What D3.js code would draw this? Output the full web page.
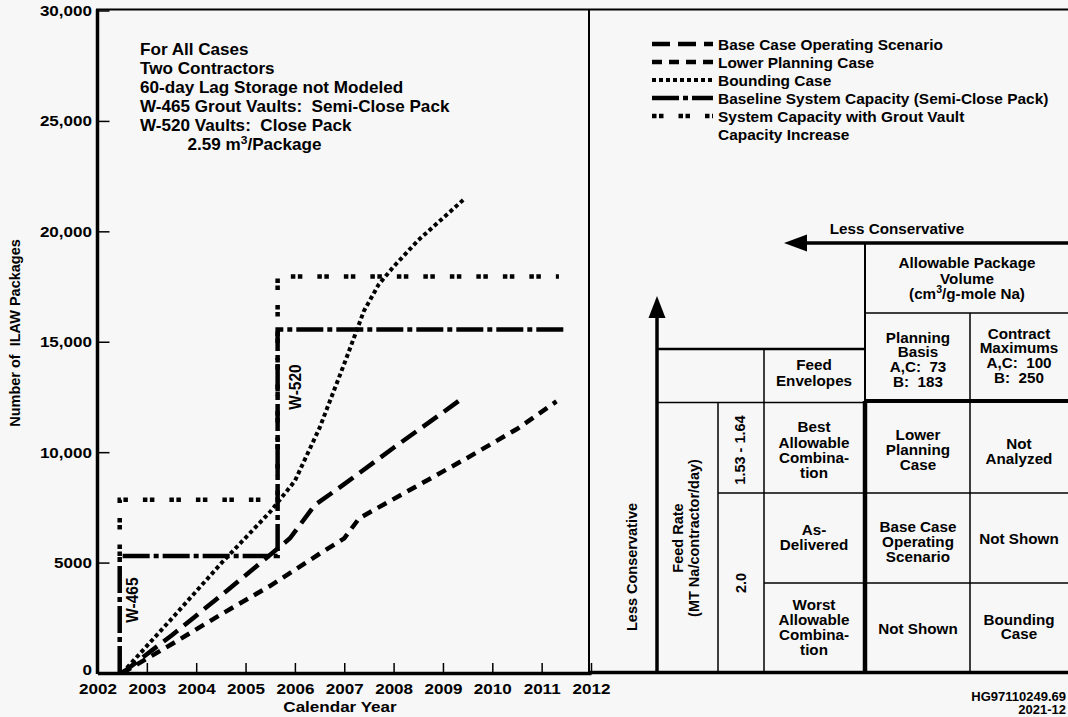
<!DOCTYPE html>
<html>
<head>
<meta charset="utf-8">
<script src="https://cdn.jsdelivr.net/npm/d3@7"></script>
<style>
  html, body { margin: 0; padding: 0; background: #f7f7f7; }
  svg { display: block; }
  text { font-family: "Liberation Sans", Arial, Helvetica, sans-serif; font-weight: bold; fill: #000; white-space: pre; }
</style>
</head>
<body>
<svg id="chart" width="1068" height="717"></svg>
<script>
// ---- Axis ticks ----
const yearTicks = [2002, 2003, 2004, 2005, 2006, 2007, 2008, 2009, 2010, 2011, 2012];
const packageTicks = [0, 5000, 10000, 15000, 20000, 25000, 30000];
const packageTickLabels = ["0", "5000", "10,000", "15,000", "20,000", "25,000", "30,000"];

// ---- Cumulative ILAW packages produced ----
const baseCaseYears  = [2002.5, 2003.5, 2004.5, 2005.5, 2005.9, 2006.4, 2007, 2008, 2009, 2009.4];
const baseCaseValues = [0, 1700, 3500, 5350, 6100, 7600, 8550, 10200, 11800, 12450];

const lowerPlanningYears  = [2002.5, 2003.5, 2004.5, 2005.5, 2006.5, 2007, 2007.3, 2007.6, 2008.5, 2009.5, 2010.5, 2011.3];
const lowerPlanningValues = [0, 1300, 2650, 3950, 5400, 6100, 7000, 7380, 8500, 9750, 11050, 12300];

const boundingYears  = [2002.5, 2003.5, 2004.5, 2005.5, 2006, 2006.5, 2007, 2007.4, 2007.7, 2008, 2008.5, 2009, 2009.45];
const boundingValues = [0, 2450, 4950, 7300, 8700, 11100, 14000, 16400, 17600, 18400, 19600, 20600, 21500];

// ---- Storage capacity steps (W-465 then W-520 vaults) ----
const baselineCapacityYears  = [2002.45, 2002.45, 2005.65, 2005.65, 2011.5];
const baselineCapacityValues = [0, 5300, 5300, 15550, 15550];

const groutCapacityYears  = [2002.45, 2002.45, 2005.65, 2005.65, 2011.35];
const groutCapacityValues = [5300, 7850, 7850, 17950, 17950];

// ---- Legend entries ----
const legendKeys = ["base", "lower", "bounding", "baseline", "grout"];
const legendLabels = [
  ["Base Case Operating Scenario"],
  ["Lower Planning Case"],
  ["Bounding Case"],
  ["Baseline System Capacity (Semi-Close Pack)"],
  ["System Capacity with Grout Vault", "Capacity Increase"]
];

const notes = [
  "For All Cases",
  "Two Contractors",
  "60-day Lag Storage not Modeled",
  "W-465 Grout Vaults:  Semi-Close Pack",
  "W-520 Vaults:  Close Pack",
  "          2.59 m^3/Package"
];

// ---- Styles ----
const SX = 1.1;  // horizontal glyph stretch
const styles = {
  base:     { width: 4.5, dash: "18,8" },
  lower:    { width: 4.5, dash: "10,7" },
  bounding: { width: 4,   dash: "4,3" },
  baseline: { width: 4.5, dash: "27,4,5,4" },
  grout:    { width: 4.5, dash: "4.5,2.5,4.5,15" }
};

const svg = d3.select("#chart");

// ---- text helpers ----
function richText(t, str, size) {
  const parts = str.split(/\^(\d)/);
  parts.forEach((p, i) => {
    if (i % 2 === 1) {
      t.append("tspan").attr("font-size", size * 0.7).attr("dy", -size * 0.38).text(p);
    } else {
      const s = t.append("tspan").text(p);
      if (i > 0) s.attr("dy", size * 0.38);
    }
  });
}
function label(parent, x, y, str, o = {}) {
  const size = o.size || 14, sx = o.sx == null ? SX : o.sx;
  const t = parent.append("text")
    .attr("transform", `translate(${x},${y}) scale(${sx},1)` + (o.rotate ? ` rotate(${o.rotate})` : ""))
    .attr("text-anchor", o.anchor || "middle")
    .attr("font-size", size);
  richText(t, str, size);
  return t;
}

// ---- Scales ----
const x = d3.scaleLinear().domain([2002, 2012]).range([97.5, 591]);
const y = d3.scaleLinear().domain([0, 30000]).range([673, 10.5]);

// frame: top rule and divider between chart and table
svg.append("line").attr("x1", 96).attr("x2", 1068).attr("y1", 9.5).attr("y2", 9.5)
  .attr("stroke", "#000").attr("stroke-width", 2);
svg.append("line").attr("x1", 589).attr("x2", 589).attr("y1", 9.5).attr("y2", 673)
  .attr("stroke", "#000").attr("stroke-width", 2);
svg.append("line").attr("x1", 590).attr("x2", 1068).attr("y1", 672.5).attr("y2", 672.5)
  .attr("stroke", "#000").attr("stroke-width", 3.5);

// ---- Axes ----
const yAxis = d3.axisLeft(y).tickValues(packageTicks)
  .tickFormat((d, i) => packageTickLabels[i])
  .tickSize(-12).tickSizeOuter(0).tickPadding(5);
const gy = svg.append("g").attr("transform", "translate(97.5,0)").call(yAxis);

const xAxis = d3.axisBottom(x).tickValues(yearTicks).tickFormat(d3.format("d"))
  .tickSize(-10).tickSizeOuter(0).tickPadding(10);
const gx = svg.append("g").attr("transform", "translate(0,673)").call(xAxis);

[gx, gy].forEach(g => {
  g.selectAll(".tick line").attr("stroke", "#000").attr("stroke-width", 1.5);
  g.selectAll(".tick text").attr("font-size", 15.5).attr("fill", "#000")
    .attr("font-family", "Liberation Sans, Arial, sans-serif").attr("font-weight", "bold")
    .attr("transform", `scale(${SX},1)`);
  g.select(".domain").attr("stroke", "#000").attr("stroke-width", 3.5);
});
gy.select(".domain").attr("d", "M0,9.5V674");
// zero label sits just above the year labels
gy.selectAll(".tick text").filter(d => d === 0).attr("dy", "0.1em");

label(svg, 340, 712, "Calendar Year", { size: 15.5 });
label(svg, 20, 333, "Number of  ILAW Packages", { size: 14.5, rotate: -90, sx: 1.05 });

// ---- Series ----
const line = d3.line().x(d => x(d[0])).y(d => y(d[1]));
function series(xs, vs) { return xs.map((v, i) => [v, vs[i]]); }
function drawSeries(key, xs, vs) {
  svg.append("path").datum(series(xs, vs))
    .attr("d", line).attr("fill", "none").attr("stroke", "#000")
    .attr("stroke-width", styles[key].width).attr("stroke-dasharray", styles[key].dash)
    .attr("stroke-linecap", "butt").attr("stroke-linejoin", "miter");
}
drawSeries("baseline", baselineCapacityYears, baselineCapacityValues);
drawSeries("grout", groutCapacityYears, groutCapacityValues);
drawSeries("lower", lowerPlanningYears, lowerPlanningValues);
drawSeries("base", baseCaseYears, baseCaseValues);
drawSeries("bounding", boundingYears, boundingValues);

// vault labels along the capacity steps
label(svg, x(baselineCapacityYears[1]) + 18, y(3300), "W-465", { size: 15.5, rotate: -90, sx: 1.05 });
label(svg, x(baselineCapacityYears[3]) + 23, y(12950), "W-520", { size: 15.5, rotate: -90, sx: 1.05 });

// case notes
notes.forEach((s, i) => label(svg, 140, 55 + i * 19, s, { size: 16, anchor: "start", sx: 1.07 }));

// ---- Legend ----
const legendRowY = [44, 62, 80, 98, 116];
legendKeys.forEach((k, i) => {
  const ly = legendRowY[i];
  svg.append("line").attr("x1", 652).attr("x2", 713).attr("y1", ly).attr("y2", ly)
    .attr("stroke", "#000").attr("stroke-width", styles[k].width)
    .attr("stroke-dasharray", styles[k].dash);
  legendLabels[i].forEach((s, j) =>
    label(svg, 718, ly + 5.5 + j * 18, s, { size: 15, anchor: "start", sx: 1.03 }));
});

// ---- Feed envelope / package volume table ----
const tbl = svg.append("g");
function rule(x1, y1, x2, y2, w) {
  tbl.append("line").attr("x1", x1).attr("y1", y1).attr("x2", x2).attr("y2", y2)
    .attr("stroke", "#000").attr("stroke-width", w);
}
// arrows
rule(800, 243, 1068, 243, 3.5);
tbl.append("path").attr("d", "M784,243L807,234.5L807,251.5Z").attr("fill", "#000");
rule(657, 312, 657, 673, 3.5);
tbl.append("path").attr("d", "M657,296L648.5,318L665.5,318Z").attr("fill", "#000");
label(tbl, 897, 234, "Less Conservative", { size: 14.5, sx: 1.05 });
label(tbl, 637, 567, "Less Conservative", { size: 14.5, rotate: -90, sx: 1.05 });

// grid
rule(865, 243, 865, 403, 2);
rule(865, 401, 865, 673, 4.5);
rule(865, 313, 1068, 313, 1.5);
rule(970, 313, 970, 673, 1.5);
rule(657, 349, 865, 349, 2.5);
rule(764, 349, 764, 673, 1.5);
rule(657, 402.5, 865, 402.5, 1.5);
rule(865, 401, 1068, 401, 4);
rule(718, 402, 718, 673, 1.5);
rule(718, 493, 1068, 493, 1.5);
rule(764, 583, 1068, 583, 1.5);

const cellFont = 14.5, cellSX = 1.05;
function cell(cx, baselines, lines) {
  lines.forEach((s, i) => label(tbl, cx, baselines[i], s, { size: cellFont, sx: cellSX }));
}
cell(967, [268, 284, 299], ["Allowable Package", "Volume", "(cm^3/g-mole Na)"]);
cell(918, [343, 357, 372, 387], ["Planning", "Basis", "A,C:  73", "B:  183"]);
cell(1019, [339, 353, 368, 383], ["Contract", "Maximums", "A,C:  100", "B:  250"]);
cell(814, [370, 386], ["Feed", "Envelopes"]);
cell(814, [432, 448, 463, 478], ["Best", "Allowable", "Combina-", "tion"]);
cell(918, [440, 455, 470], ["Lower", "Planning", "Case"]);
cell(1019, [449, 464], ["Not", "Analyzed"]);
cell(814, [535, 550], ["As-", "Delivered"]);
cell(918, [532, 547, 562], ["Base Case", "Operating", "Scenario"]);
cell(1019, [544], ["Not Shown"]);
cell(814, [610, 625, 640, 655], ["Worst", "Allowable", "Combina-", "tion"]);
cell(918, [634], ["Not Shown"]);
cell(1019, [625, 639], ["Bounding", "Case"]);

label(tbl, 745, 450, "1.53 - 1.64", { size: 14.5, rotate: -90, sx: 1.05 });
label(tbl, 746, 583, "2.0", { size: 14.5, rotate: -90, sx: 1.05 });
label(tbl, 683, 538, "Feed Rate", { size: 14.5, rotate: -90, sx: 1.05 });
label(tbl, 699, 538, "(MT Na/contractor/day)", { size: 14.5, rotate: -90, sx: 1.05 });

// drawing number
label(svg, 1066, 701, "HG97110249.69", { size: 13, anchor: "end", sx: 1.0 });
label(svg, 1066, 714, "2021-12", { size: 13, anchor: "end", sx: 1.0 });
</script>
</body>
</html>
